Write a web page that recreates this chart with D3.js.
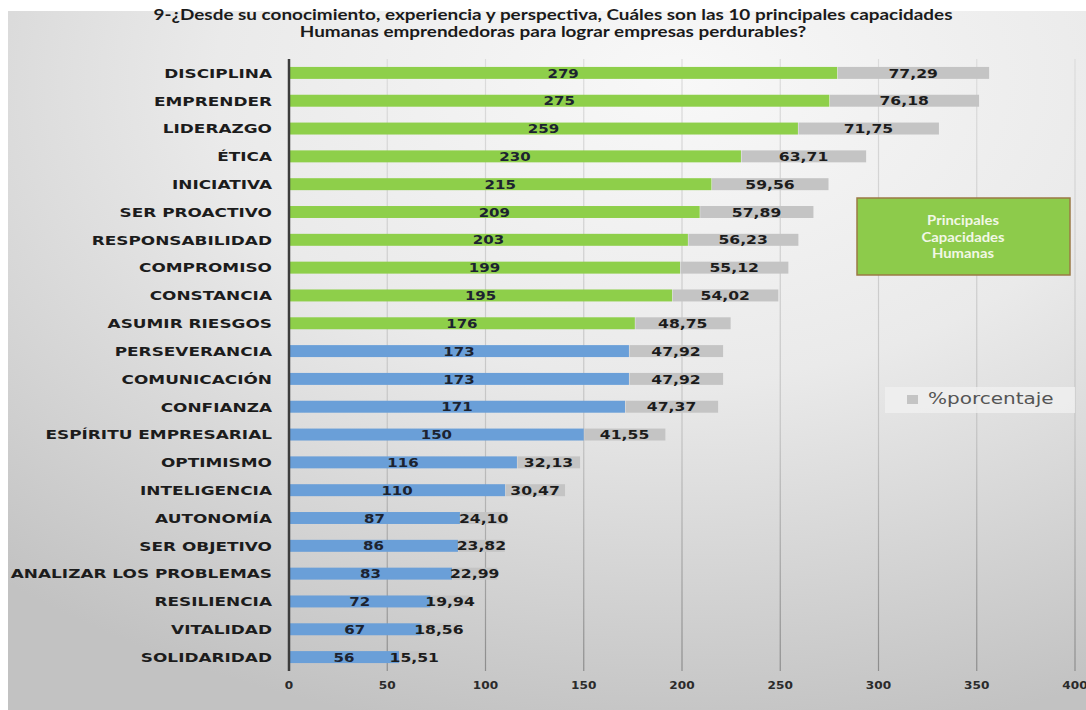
<!DOCTYPE html>
<html>
<head>
<meta charset="utf-8">
<script src="https://cdn.jsdelivr.net/npm/d3@7"></script>
<style>
  html, body { margin: 0; padding: 0; background: #fff; }
  svg { display: block; }
</style>
</head>
<body>
<svg id="chart" width="1086" height="710"></svg>
<script>
// Capacidades humanas emprendedoras: frecuencia y porcentaje
const categories = [
  "DISCIPLINA", "EMPRENDER", "LIDERAZGO", "ÉTICA", "INICIATIVA",
  "SER PROACTIVO", "RESPONSABILIDAD", "COMPROMISO", "CONSTANCIA", "ASUMIR RIESGOS",
  "PERSEVERANCIA", "COMUNICACIÓN", "CONFIANZA", "ESPÍRITU EMPRESARIAL", "OPTIMISMO",
  "INTELIGENCIA", "AUTONOMÍA", "SER OBJETIVO", "ANALIZAR LOS PROBLEMAS", "RESILIENCIA",
  "VITALIDAD", "SOLIDARIDAD"
];
const counts = [279, 275, 259, 230, 215, 209, 203, 199, 195, 176,
                173, 173, 171, 150, 116, 110, 87, 86, 83, 72, 67, 56];
const percents = [77.29, 76.18, 71.75, 63.71, 59.56, 57.89, 56.23, 55.12, 54.02, 48.75,
                  47.92, 47.92, 47.37, 41.55, 32.13, 30.47, 24.10, 23.82, 22.99, 19.94, 18.56, 15.51];
const xTicks = [0, 50, 100, 150, 200, 250, 300, 350, 400];
const topCount = 10;
const titleLines = [
  "9-¿Desde su conocimiento, experiencia y perspectiva, Cuáles  son las 10 principales capacidades",
  "Humanas emprendedoras para lograr empresas perdurables?"
];
const boxLines = ["Principales", "Capacidades", "Humanas"];
const legendLabel = "%porcentaje";

const rows = categories.map((c, i) => ({
  name: c, count: counts[i], pct: percents[i], top: i < topCount
}));

const svg = d3.select("#chart");
const defs = svg.append("defs");

// slide-like background shading
const bg = defs.append("radialGradient").attr("id", "bg")
  .attr("cx", 0.62).attr("cy", 0.1).attr("r", 0.95);
bg.append("stop").attr("offset", 0).attr("stop-color", "#f8f8f8");
bg.append("stop").attr("offset", 0.45).attr("stop-color", "#eaeaea");
bg.append("stop").attr("offset", 1).attr("stop-color", "#c2c2c2");

const gridGrad = defs.append("linearGradient").attr("id", "gridGrad")
  .attr("gradientUnits", "userSpaceOnUse")
  .attr("x1", 0).attr("y1", 59).attr("x2", 0).attr("y2", 672);
gridGrad.append("stop").attr("offset", 0).attr("stop-color", "#dcdcdc");
gridGrad.append("stop").attr("offset", 0.6).attr("stop-color", "#c4c4c4");
gridGrad.append("stop").attr("offset", 1).attr("stop-color", "#8c8c8c");

svg.append("rect").attr("x", 8).attr("y", 11).attr("width", 1078).attr("height", 699)
  .attr("fill", "url(#bg)");

const x = d3.scaleLinear().domain([0, 400]).range([289, 1075]);
const y = d3.scaleBand().domain(categories).range([59, 671])
  .paddingInner(0.57).paddingOuter(0.285);

// horizontally widened glyphs
function stretch(sel, k) {
  sel.each(function () {
    const w = this.getComputedTextLength();
    d3.select(this).attr("textLength", w * k).attr("lengthAdjust", "spacingAndGlyphs");
  });
}

// title
svg.append("g").selectAll("text").data(titleLines).join("text")
  .attr("x", 553).attr("y", (d, i) => 20 + i * 17)
  .attr("text-anchor", "middle")
  .attr("font-family", "Lato, 'Open Sans', sans-serif")
  .attr("font-weight", "bold").attr("font-size", 15)
  .attr("fill", "#1a1a1a")
  .text(d => d)
  .call(stretch, 1.26);

// gridlines
svg.append("g").selectAll("line").data(xTicks.filter(t => t > 0)).join("line")
  .attr("x1", d => x(d)).attr("x2", d => x(d))
  .attr("y1", 59).attr("y2", 671)
  .attr("stroke", "url(#gridGrad)").attr("stroke-width", 1.2);

// tick labels
svg.append("g").selectAll("text").data(xTicks).join("text")
  .attr("x", d => x(d)).attr("y", 689)
  .attr("text-anchor", "middle")
  .attr("font-family", "'DejaVu Sans', sans-serif")
  .attr("font-weight", "bold").attr("font-size", 11)
  .attr("fill", "#2b2b2b")
  .text(d => d)
  .call(stretch, 1.1);

// bars
const bars = svg.append("g");
bars.selectAll("rect.cnt").data(rows).join("rect").attr("class", "cnt")
  .attr("x", x(0)).attr("y", d => y(d.name))
  .attr("width", d => x(d.count) - x(0)).attr("height", y.bandwidth())
  .attr("fill", d => d.top ? "#8ecf4a" : "#6a9fd8");
bars.selectAll("rect.pct").data(rows).join("rect").attr("class", "pct")
  .attr("x", d => x(d.count) + 0.5).attr("y", d => y(d.name))
  .attr("width", d => x(d.count + d.pct) - x(d.count) - 0.5).attr("height", y.bandwidth())
  .attr("fill", "#c4c4c4");

// value labels
const fmt = v => v.toFixed(2).replace(".", ",");
const labelFont = "'DejaVu Sans', sans-serif";
svg.append("g").selectAll("text").data(rows).join("text")
  .attr("x", d => (x(0) + x(d.count)) / 2)
  .attr("y", d => y(d.name) + y.bandwidth() / 2 + 4.6)
  .attr("text-anchor", "middle")
  .attr("font-family", labelFont).attr("font-weight", "bold").attr("font-size", 12.5)
  .attr("fill", "#1c2330")
  .text(d => d.count)
  .call(stretch, 1.2);
svg.append("g").selectAll("text").data(rows).join("text")
  .attr("x", d => (x(d.count) + x(d.count + d.pct)) / 2)
  .attr("y", d => y(d.name) + y.bandwidth() / 2 + 4.6)
  .attr("text-anchor", "middle")
  .attr("font-family", labelFont).attr("font-weight", "bold").attr("font-size", 12.5)
  .attr("fill", "#1c1c1c")
  .text(d => fmt(d.pct))
  .call(stretch, 1.25);

// category labels
svg.append("g").selectAll("text").data(rows).join("text")
  .attr("x", 272)
  .attr("y", d => y(d.name) + y.bandwidth() / 2 + 4.8)
  .attr("text-anchor", "end")
  .attr("font-family", labelFont).attr("font-weight", "bold").attr("font-size", 13)
  .attr("fill", "#1c1c1c")
  .text(d => d.name)
  .call(stretch, 1.3);

// value axis line
svg.append("line")
  .attr("x1", x(0)).attr("x2", x(0)).attr("y1", 59).attr("y2", 671)
  .attr("stroke", "#3c3c3c").attr("stroke-width", 2.5);

// highlight box
const box = svg.append("g");
box.append("rect").attr("x", 857).attr("y", 198).attr("width", 213).attr("height", 77)
  .attr("fill", "#8dcb4b").attr("stroke", "#9b7a45").attr("stroke-width", 1.5);
box.selectAll("text").data(boxLines).join("text")
  .attr("x", 963).attr("y", (d, i) => 225 + i * 16.5)
  .attr("text-anchor", "middle")
  .attr("font-family", "Lato, sans-serif").attr("font-weight", "bold").attr("font-size", 13.5)
  .attr("fill", "#f2f7e6")
  .text(d => d)
  .call(stretch, 1.1);

// legend
const leg = svg.append("g");
leg.append("rect").attr("x", 885).attr("y", 387).attr("width", 190).attr("height", 26)
  .attr("fill", "#f0f0f0").attr("opacity", 0.8);
leg.append("rect").attr("x", 907).attr("y", 395).attr("width", 11).attr("height", 9)
  .attr("fill", "#c4c4c4");
leg.append("text").attr("x", 928).attr("y", 404)
  .attr("font-family", "'DejaVu Sans', sans-serif").attr("font-size", 16)
  .attr("fill", "#555")
  .text(legendLabel)
  .call(stretch, 1.25);
</script>
</body>
</html>
